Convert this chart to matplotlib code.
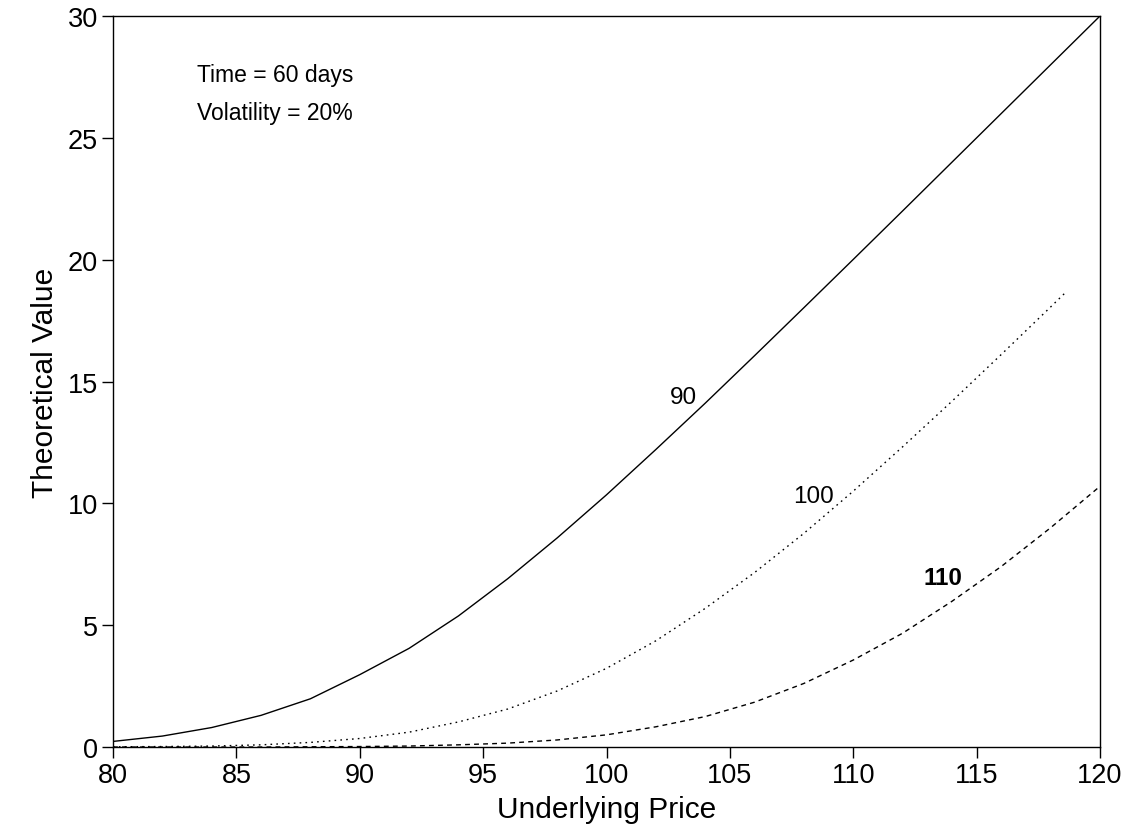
import matplotlib
matplotlib.use("Agg")
import matplotlib.pyplot as plt

plt.rcParams['font.family'] = ['Liberation Sans', 'DejaVu Sans']

# Underlying prices (x)
price = [80, 82, 84, 86, 88, 90, 92, 94, 96, 98, 100,
         102, 104, 106, 108, 110, 112, 114, 116, 118, 120]
price_100 = [80, 82, 84, 86, 88, 90, 92, 94, 96, 98, 100,
             102, 104, 106, 108, 110, 112, 114, 116, 118, 118.6]

# Theoretical values
value_90 = [0.23, 0.45, 0.8, 1.3, 1.98, 2.97, 4.05, 5.38, 6.91, 8.58, 10.35,
            12.21, 14.11, 16.06, 18.03, 20.01, 22.0, 24.0, 26.0, 28.0, 30.0]
value_100 = [0.01, 0.02, 0.04, 0.09, 0.19, 0.35, 0.61, 1.03, 1.56, 2.30, 3.23,
             4.36, 5.69, 7.16, 8.77, 10.50, 12.32, 14.19, 16.11, 18.06, 18.65]
value_110 = [0.0, 0.0, 0.0, 0.0, 0.01, 0.02, 0.04, 0.09, 0.16, 0.29, 0.50,
             0.83, 1.25, 1.84, 2.61, 3.57, 4.67, 5.98, 7.41, 9.00, 10.7]

strike_labels = ["90", "100", "110"]
x_ticks = [80, 85, 90, 95, 100, 105, 110, 115, 120]
y_ticks = [0, 5, 10, 15, 20, 25, 30]

fig = plt.figure(figsize=(11.45, 8.37), dpi=100)
ax = fig.add_axes([0.0987, 0.1063, 0.862, 0.8734])

ax.plot(price, value_90, color='black', lw=1.0, ls='-')
ax.plot(price_100, value_100, color='black', lw=1.0, ls=(0, (1.2, 3)))
ax.plot(price, value_110, color='black', lw=1.0, ls=(0, (3.5, 3)))

ax.text(103.1, 14.35, strike_labels[0], fontsize=17.5, ha='center', va='center')
ax.text(108.4, 10.3, strike_labels[1], fontsize=17.5, ha='center', va='center')
ax.text(113.65, 6.95, strike_labels[2], fontsize=17.5, ha='center', va='center',
        fontweight='bold')

ax.text(83.4, 27.6, "Time = 60 days", fontsize=16.5, ha='left', va='center')
ax.text(83.4, 26.05, "Volatility = 20%", fontsize=16.5, ha='left', va='center')

ax.set_xlim(80, 120)
ax.set_ylim(0, 30)
ax.set_xticks(x_ticks)
ax.set_yticks(y_ticks)
ax.tick_params(axis='both', direction='out', length=8, width=1,
               labelsize=19.5, top=False, right=False, pad=3)
for s in ax.spines.values():
    s.set_linewidth(1.0)

ax.set_xlabel("Underlying Price", fontsize=21.5, labelpad=5)
ax.set_ylabel("Theoretical Value", fontsize=21.5, labelpad=6)

fig.savefig("out.png", dpi=100)
